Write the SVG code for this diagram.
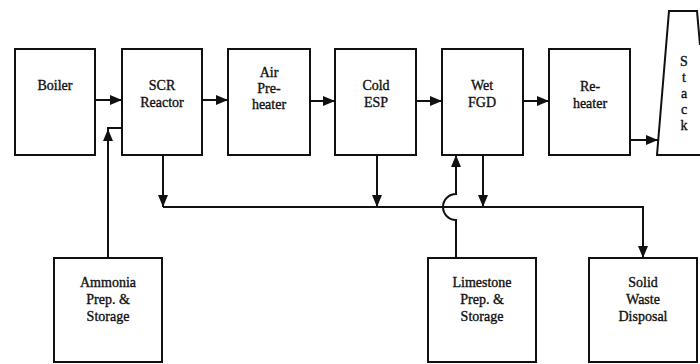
<svg xmlns="http://www.w3.org/2000/svg" width="700" height="364" viewBox="0 0 700 364">
<style>
.box{fill:#fff;stroke:#111;stroke-width:2}
.t{font-family:"Liberation Serif","Times New Roman",serif;font-size:14px;fill:#111;stroke:#111;stroke-width:0.35;text-anchor:middle}
.c{fill:none;stroke:#111;stroke-width:2}
</style>
<defs>
<marker id="ah" markerUnits="userSpaceOnUse" markerWidth="12" markerHeight="10" refX="12" refY="5" orient="auto">
<path d="M0,0 L12,5 L0,10 z" fill="#111"/>
</marker>
</defs>
<rect width="700" height="364" fill="#fff"/>
<g id="connectors">
<path class="c" d="M95,100 H122" marker-end="url(#ah)"/>
<path class="c" d="M202,100 H228" marker-end="url(#ah)"/>
<path class="c" d="M310,101 H335" marker-end="url(#ah)"/>
<path class="c" d="M416,101 H442" marker-end="url(#ah)"/>
<path class="c" d="M523,101 H549" marker-end="url(#ah)"/>
<path class="c" d="M630,140 H658" marker-end="url(#ah)"/>
<path class="c" d="M163,155 V207" marker-end="url(#ah)"/>
<path class="c" d="M377,155 V207" marker-end="url(#ah)"/>
<path class="c" d="M483,155 V207" marker-end="url(#ah)"/>
<path class="c" d="M163,207 H643 V258" marker-end="url(#ah)"/>
<path class="c" d="M108,258 V129" marker-end="url(#ah)"/>
<path class="c" d="M107,128 H122"/>
<path class="c" d="M456,258 V220 A13,13 0 0 1 456,194 V155" marker-end="url(#ah)"/>
</g>
<g id="boiler"><rect class="box" x="15" y="49" width="80" height="106"/><text class="t" x="55" y="90">Boiler</text></g>
<g id="scr"><rect class="box" x="122" y="49" width="80" height="106"/><text class="t" x="162" y="90">SCR</text><text class="t" x="162" y="107">Reactor</text></g>
<g id="airpreheater"><rect class="box" x="228" y="49" width="82" height="106"/><text class="t" x="269" y="77">Air</text><text class="t" x="269" y="93">Pre-</text><text class="t" x="269" y="109">heater</text></g>
<g id="coldesp"><rect class="box" x="335" y="49" width="81" height="106"/><text class="t" x="376" y="90">Cold</text><text class="t" x="376" y="107">ESP</text></g>
<g id="wetfgd"><rect class="box" x="442" y="49" width="81" height="106"/><text class="t" x="482" y="90">Wet</text><text class="t" x="482" y="107">FGD</text></g>
<g id="reheater"><rect class="box" x="549" y="49" width="81" height="106"/><text class="t" x="590" y="91">Re-</text><text class="t" x="590" y="108">heater</text></g>
<g id="stack"><path class="box" d="M700,155 H657 L669,11 H697 L700,45"/>
<text class="t" x="684" y="66">S</text><text class="t" x="684" y="82">t</text><text class="t" x="684" y="98">a</text><text class="t" x="684" y="114">c</text><text class="t" x="684" y="130">k</text></g>
<g id="ammonia"><rect class="box" x="54" y="258" width="108" height="104"/><text class="t" x="108" y="287">Ammonia</text><text class="t" x="108" y="304">Prep. &amp;</text><text class="t" x="108" y="321">Storage</text></g>
<g id="limestone"><rect class="box" x="428" y="258" width="108" height="104"/><text class="t" x="482" y="287">Limestone</text><text class="t" x="482" y="304">Prep. &amp;</text><text class="t" x="482" y="321">Storage</text></g>
<g id="solidwaste"><rect class="box" x="589" y="258" width="108" height="104"/><text class="t" x="643" y="287">Solid</text><text class="t" x="643" y="304">Waste</text><text class="t" x="643" y="321">Disposal</text></g>
</svg>
